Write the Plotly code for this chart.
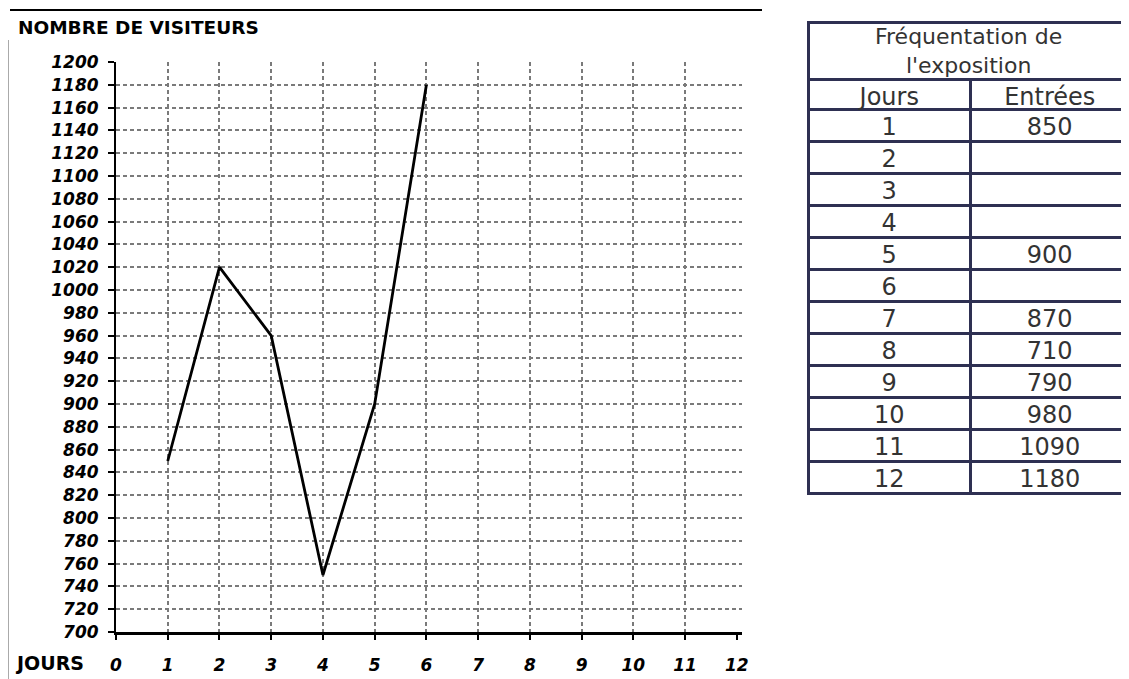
import plotly.graph_objects as go

# ---- data ----
jours_plot = [1, 2, 3, 4, 5, 6]
visiteurs = [850, 1020, 960, 750, 900, 1180]

y_ticks = list(range(700, 1201, 20))
x_ticks = list(range(0, 13))
x_grid = list(range(1, 12))

table_title = "Fréquentation de<br>l'exposition"
table_header = ["Jours", "Entrées"]
table_jours = ["1", "2", "3", "4", "5", "6", "7", "8", "9", "10", "11", "12"]
table_entrees = ["850", "", "", "", "900", "", "870", "710", "790", "980", "1090", "1180"]

# page has an 8px body margin: figure is placed at (8, 8)
OFF = 8
W, H = 1129 - OFF, 679 - OFF
def px(x):
    return (x - OFF) / W
def py(y):
    return 1 - (y - OFF) / H

NAVY = "#2e3052"
TXT = "#333333"
TFONT = dict(family="DejaVu Sans", size=24, color=TXT)

fig = go.Figure()

fig.add_trace(go.Scatter(
    x=jours_plot, y=visiteurs, mode="lines",
    line=dict(color="black", width=2.8),
    showlegend=False, hoverinfo="skip",
))

# title cell of the table (box only; text as annotation)
fig.add_trace(go.Table(
    domain=dict(x=[px(808), 1.0], y=[py(79), py(22)]),
    header=dict(values=[""], height=57, align="center",
                line=dict(color=NAVY, width=3), fill=dict(color="white"),
                font=TFONT),
    cells=dict(values=[[]], height=1, line=dict(color=NAVY, width=3)),
))

# main table
fig.add_trace(go.Table(
    domain=dict(x=[px(808), 1.0], y=[py(499), py(79)]),
    columnwidth=[164, 160],
    header=dict(values=table_header, height=30, align="center",
                line=dict(color=NAVY, width=3), fill=dict(color="white"),
                font=TFONT),
    cells=dict(values=[table_jours, table_entrees], height=32, align="center",
               line=dict(color=NAVY, width=3), fill=dict(color="white"),
               font=TFONT),
))

axis_font = dict(family="DejaVu Sans", size=17, color="black", weight="bold", style="italic")
grid_style = dict(gridcolor="#7a7a7a", gridwidth=1.5, griddash="4px,3px")

annotations = [
    dict(text="NOMBRE DE VISITEURS", x=px(16), y=py(27), xref="paper", yref="paper",
         xanchor="left", yanchor="middle", showarrow=False,
         font=dict(family="DejaVu Sans", size=18.5, color="black", weight="bold")),
    dict(text="JOURS", x=px(13), y=py(663), xref="paper", yref="paper",
         xanchor="left", yanchor="middle", showarrow=False,
         font=dict(family="DejaVu Sans", size=19, color="black", weight="bold")),
    dict(text=table_title, x=(px(808) + 1.0) / 2, y=py(51), xref="paper", yref="paper",
         xanchor="center", yanchor="middle", showarrow=False,
         font=dict(family="DejaVu Sans", size=22, color=TXT)),
]

fig.update_layout(
    width=W, height=H,
    margin=dict(l=0, r=0, t=0, b=0, pad=0, autoexpand=False),
    paper_bgcolor="white", plot_bgcolor="white",
    showlegend=False,
    xaxis=dict(
        domain=[px(116), px(742)], range=[0, 12.1],
        tickvals=x_ticks, ticktext=[str(v) for v in x_ticks],
        tickfont=axis_font, ticks="outside", ticklen=5, tickwidth=2, tickcolor="black",
        ticklabelstandoff=11,
        showline=True, linecolor="black", linewidth=3,
        showgrid=False,
        minor=dict(tickvals=x_grid, showgrid=True, ticks="", **grid_style),
        zeroline=False, fixedrange=True, automargin=False,
    ),
    yaxis=dict(
        domain=[py(632), py(62)], range=[700, 1200],
        tickvals=y_ticks, ticktext=[str(v) for v in y_ticks],
        tickfont=axis_font, ticks="outside", ticklen=6, tickwidth=2, tickcolor="black",
        ticklabelstandoff=6,
        showline=True, linecolor="black", linewidth=2,
        showgrid=True, **grid_style,
        zeroline=False, fixedrange=True, automargin=False,
    ),
    annotations=annotations,
    shapes=[
        dict(type="line", xref="paper", yref="paper", x0=px(10), x1=px(762), y0=py(10), y1=py(10),
             line=dict(color="black", width=2)),
        dict(type="line", xref="paper", yref="paper", x0=0, x1=0, y0=py(40), y1=0,
             line=dict(color="#aaaaaa", width=2)),
    ],
)

fig.write_html("out.html")
